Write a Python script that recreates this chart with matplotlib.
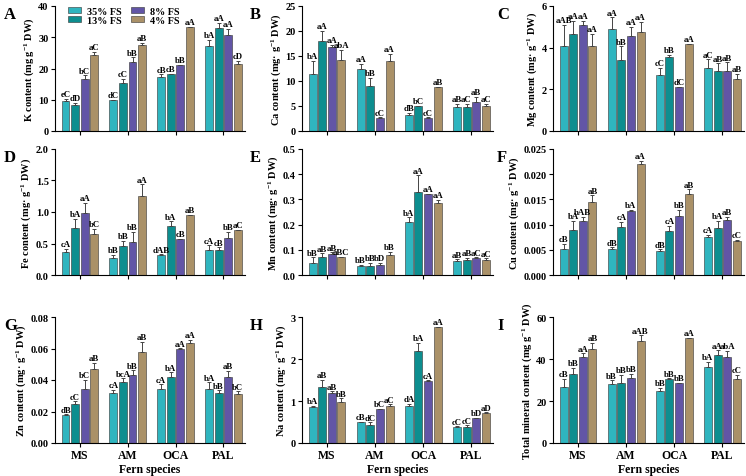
import matplotlib
matplotlib.use('Agg')
import matplotlib.pyplot as plt
import numpy as np
from matplotlib.patches import Patch

plt.rcParams['font.family'] = ['Liberation Serif', 'DejaVu Serif']
plt.rcParams['font.weight'] = 'bold'
plt.rcParams['mathtext.fontset'] = 'custom'
plt.rcParams['mathtext.rm'] = 'Liberation Serif:bold'
plt.rcParams['mathtext.bf'] = 'Liberation Serif:bold'
plt.rcParams['mathtext.it'] = 'Liberation Serif:bold'
plt.rcParams['axes.linewidth'] = 0.8

species = ['MS', 'AM', 'OCA', 'PAL']
treatments = ['35% FS', '13% FS', '8% FS', '4% FS']
colors = ['#2fb5bf', '#0d8e8f', '#6255a6', '#aa9168']

# values per species (rows) x treatment (cols)
K_mean = [[9.7, 8.2, 16.8, 24.4], [9.8, 15.4, 22.1, 27.4], [17.3, 18.1, 21.0, 33.3], [27.2, 33.1, 30.8, 21.4]]
K_err = [[0.6, 0.7, 1.0, 1.0], [0.2, 1.2, 1.5, 0.9], [0.8, 0.3, 0.1, 0.0], [2.0, 1.5, 2.0, 1.0]]
K_lab = [['eC', 'dD', 'bC', 'aC'], ['dC', 'cC', 'bB', 'aB'], ['cB', 'cB', 'bB', 'aA'], ['bA', 'aA', 'aA', 'cD']]

Ca_mean = [[11.5, 18.0, 16.8, 14.3], [12.5, 9.0, 2.7, 14.0], [3.3, 5.0, 2.7, 8.8], [4.8, 4.8, 5.8, 5.0]]
Ca_err = [[2.6, 2.1, 0.4, 2.0], [1.0, 1.7, 0.05, 1.5], [0.3, 0.1, 0.05, 0.05], [0.6, 0.6, 1.0, 0.4]]
Ca_lab = [['bA', 'aA', 'aA', 'abA'], ['aA', 'bB', 'cC', 'aA'], ['dB', 'bC', 'cC', 'aB'], ['aB', 'aC', 'aB', 'aC']]

Mg_mean = [[4.1, 4.64, 5.1, 4.08], [4.9, 3.4, 4.56, 4.75], [2.67, 3.55, 2.1, 4.16], [3.04, 2.9, 2.9, 2.5]]
Mg_err = [[1.0, 0.64, 0.2, 0.6], [0.56, 0.67, 0.43, 0.5], [0.37, 0.1, 0.02, 0.02], [0.4, 0.35, 0.4, 0.24]]
Mg_lab = [['aAB', 'aA', 'aA', 'aA'], ['aA', 'bB', 'aA', 'aA'], ['cC', 'bB', 'dC', 'aA'], ['aC', 'aB', 'aB', 'aB']]

Fe_mean = [[0.36, 0.74, 0.99, 0.65], [0.27, 0.46, 0.52, 1.25], [0.31, 0.78, 0.57, 0.95], [0.40, 0.40, 0.59, 0.71]]
Fe_err = [[0.05, 0.15, 0.16, 0.08], [0.05, 0.08, 0.16, 0.19], [0.02, 0.07, 0.005, 0.005], [0.07, 0.04, 0.09, 0.01]]
Fe_lab = [['cA', 'bA', 'aA', 'bC'], ['bB', 'bB', 'bB', 'aA'], ['dAB', 'bA', 'cB', 'aB'], ['cA', 'cB', 'bB', 'aC']]

Mn_mean = [[0.048, 0.070, 0.083, 0.070], [0.034, 0.037, 0.041, 0.079], [0.209, 0.330, 0.320, 0.285], [0.057, 0.060, 0.068, 0.061]]
Mn_err = [[0.022, 0.016, 0.007, 0.003], [0.005, 0.012, 0.007, 0.013], [0.020, 0.066, 0.002, 0.012], [0.005, 0.008, 0.002, 0.005]]
Mn_lab = [['bB', 'aB', 'aB', 'aBC'], ['bB', 'bB', 'bD', 'bB'], ['bA', 'aA', 'aA', 'aA'], ['aB', 'aB', 'aC', 'aC']]

Cu_mean = [[0.0052, 0.0090, 0.0108, 0.0145], [0.0052, 0.0096, 0.0127, 0.0220], [0.0048, 0.0087, 0.0117, 0.0160], [0.0075, 0.0093, 0.0110, 0.0068]]
Cu_err = [[0.0010, 0.0018, 0.0007, 0.0013], [0.0003, 0.0009, 0.0002, 0.0007], [0.0003, 0.0011, 0.0012, 0.0010], [0.0004, 0.0015, 0.0005, 0.0002]]
Cu_lab = [['cB', 'bA', 'bAB', 'aB'], ['dB', 'cA', 'bA', 'aA'], ['dB', 'cA', 'bB', 'aB'], ['cA', 'bA', 'aB', 'cC']]

Zn_mean = [[0.0176, 0.0248, 0.034, 0.047], [0.032, 0.039, 0.043, 0.0577], [0.034, 0.0418, 0.0598, 0.0636], [0.034, 0.032, 0.0418, 0.031]]
Zn_err = [[0.0005, 0.0016, 0.006, 0.0037], [0.0017, 0.002, 0.0032, 0.0064], [0.0032, 0.003, 0.0003, 0.0017], [0.0045, 0.0015, 0.0038, 0.0017]]
Zn_lab = [['dB', 'cC', 'bC', 'aB'], ['cA', 'bcA', 'bB', 'aB'], ['cA', 'bA', 'aA', 'aA'], ['bA', 'bB', 'aB', 'bC']]

Na_mean = [[0.86, 1.34, 1.20, 0.98], [0.49, 0.44, 0.81, 0.88], [0.88, 2.18, 1.48, 2.76], [0.38, 0.37, 0.59, 0.72]]
Na_err = [[0.03, 0.17, 0.03, 0.08], [0.01, 0.05, 0.01, 0.04], [0.05, 0.20, 0.01, 0.01], [0.02, 0.05, 0.01, 0.01]]
Na_lab = [['bA', 'aB', 'aB', 'bB'], ['cB', 'dC', 'bC', 'aC'], ['dA', 'bA', 'cA', 'aA'], ['cC', 'cC', 'bD', 'aD']]

Tot_mean = [[26.8, 32.8, 41.0, 44.6], [28.0, 28.8, 30.9, 48.5], [24.9, 30.4, 28.5, 50.1], [36.2, 41.7, 40.9, 30.7]]
Tot_err = [[3.9, 3.1, 1.7, 3.1], [1.9, 3.5, 1.9, 2.8], [1.3, 0.4, 0.1, 0.1], [2.5, 2.4, 3.1, 1.7]]
Tot_lab = [['cB', 'bB', 'aA', 'aB'], ['bB', 'bB', 'bB', 'aAB'], ['bB', 'bB', 'bB', 'aA'], ['bA', 'aA', 'abA', 'cC']]

sup = r'$^{-1}$'
panels = [
    ('A', K_mean, K_err, K_lab, 'K content (mg g' + sup + ' DW)', [0, 10, 20, 30, 40], '%d'),
    ('B', Ca_mean, Ca_err, Ca_lab, 'Ca content (mg· g' + sup + ' DW)', [0, 5, 10, 15, 20, 25], '%d'),
    ('C', Mg_mean, Mg_err, Mg_lab, 'Mg content (mg· g' + sup + ' DW)', [0, 2, 4, 6], '%d'),
    ('D', Fe_mean, Fe_err, Fe_lab, 'Fe content (mg· g' + sup + ' DW)', [0, 0.5, 1.0, 1.5, 2.0], '%.1f'),
    ('E', Mn_mean, Mn_err, Mn_lab, 'Mn content (mg· g' + sup + ' DW)', [0, 0.1, 0.2, 0.3, 0.4, 0.5], '%.1f'),
    ('F', Cu_mean, Cu_err, Cu_lab, 'Cu content (mg· g' + sup + ' DW)', [0, 0.005, 0.010, 0.015, 0.020, 0.025], '%.3f'),
    ('G', Zn_mean, Zn_err, Zn_lab, 'Zn content (mg· g' + sup + ' DW)', [0, 0.02, 0.04, 0.06, 0.08], '%.2f'),
    ('H', Na_mean, Na_err, Na_lab, 'Na content (mg· g' + sup + ' DW)', [0, 1, 2, 3], '%d'),
    ('I', Tot_mean, Tot_err, Tot_lab, 'Total mineral content (mg g' + sup + ' DW)', [0, 20, 40, 60], '%d'),
]

W, H = 746, 477
fig = plt.figure(figsize=(W / 100, H / 100), dpi=100)
cols = [(55, 245), (302, 493), (553, 744)]
rows = [(7, 132), (150, 276), (318, 444)]
letter_x = [4, 250, 497]

step = 0.2
width = 0.165
xg = np.arange(len(species))

for idx, (letter, mean, err, lab, ylabel, yticks, fmt) in enumerate(panels):
    r, c = divmod(idx, 3)
    l, rr = cols[c]
    t, b = rows[r]
    ax = fig.add_axes([l / W, 1 - b / H, (rr - l) / W, (b - t) / H])
    mean = np.array(mean)
    err = np.array(err)
    for i in range(4):
        xs = xg + (i - 1.5) * step
        ax.bar(xs, mean[:, i], width=width, color=colors[i], edgecolor='#333333',
               linewidth=0.4, zorder=2)
        ax.errorbar(xs, mean[:, i], yerr=[np.zeros(4), err[:, i]], fmt='none',
                    ecolor='#444444', elinewidth=0.7, capsize=1.5, capthick=0.7, zorder=3)
        for j in range(4):
            ax.annotate(lab[j][i], (xs[j], mean[j, i] + err[j, i]), xytext=(0, 0.5),
                        textcoords='offset points', ha='center', va='bottom',
                        fontsize=6.3, fontweight='bold', zorder=4)
    ax.set_xlim(-0.52, 3.45)
    ax.set_ylim(yticks[0], yticks[-1])
    ax.set_yticks(yticks)
    ax.set_yticklabels([fmt % v for v in yticks], fontsize=7.5, fontweight='bold')
    ax.set_xticks(xg)
    if r == 2:
        ax.set_xticklabels(species, fontsize=8.5, fontweight='bold')
        ax.set_xlabel('Fern species', fontsize=8.5, fontweight='bold', labelpad=1)
    else:
        ax.set_xticklabels([])
    ax.set_ylabel(ylabel, fontsize=7.5, fontweight='bold', labelpad=2)
    ax.spines['top'].set_visible(False)
    ax.spines['right'].set_visible(False)
    ax.tick_params(axis='both', direction='out', length=3, width=0.8, pad=1.5)
    fig.text(letter_x[c] / W, 1 - (t + 12) / H, letter, fontsize=12, fontweight='bold',
             ha='left', va='baseline')
    if letter == 'A':
        handles = [Patch(facecolor=colors[k], edgecolor='#333333', linewidth=0.4) for k in range(4)]
        ax.legend(handles, treatments, ncol=2, loc='upper left', bbox_to_anchor=(0.03, 1.05),
                  frameon=False, handlelength=1.3, handleheight=0.6,
                  columnspacing=0.9, labelspacing=0.0, handletextpad=0.6,
                  borderpad=0.2, prop={'weight': 'bold', 'size': 7.3})

fig.savefig('out.png', dpi=100)
